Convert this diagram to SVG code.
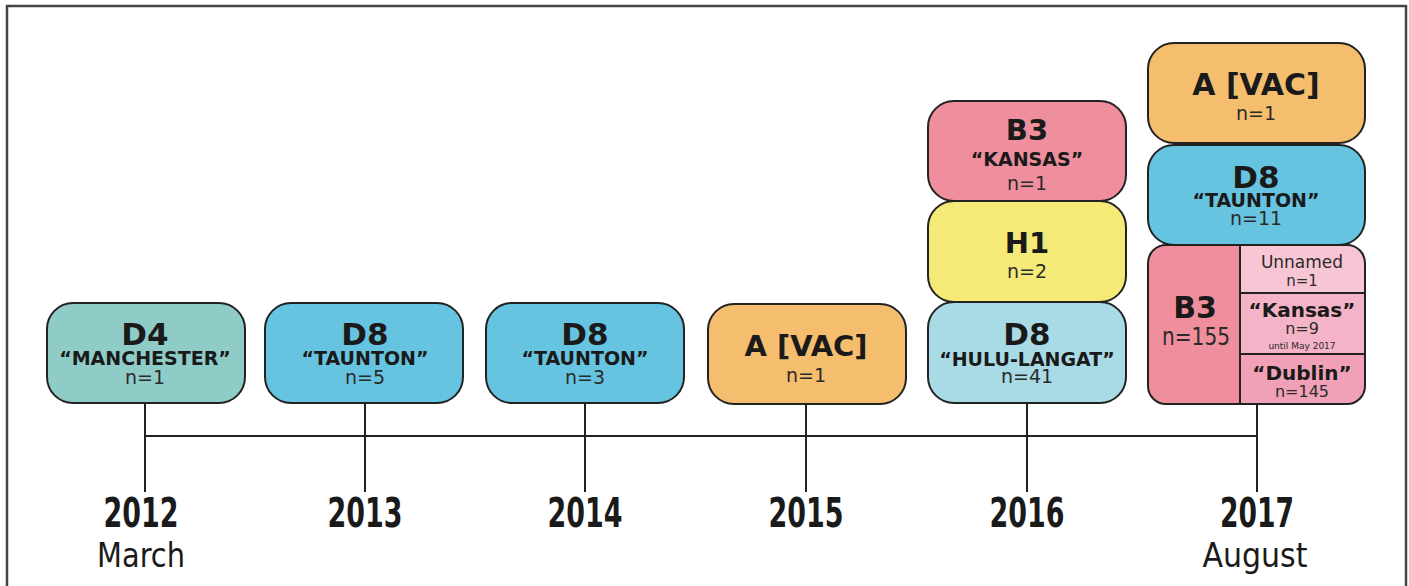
<svg xmlns="http://www.w3.org/2000/svg" width="1409" height="586" viewBox="0 0 1409 586">
<style>
.box{stroke:#222;stroke-width:2}
.h{font-family:"DejaVu Sans",Verdana,sans-serif;font-weight:bold;fill:#1a1a1a;text-anchor:middle}
.nm{font-family:"DejaVu Sans",Verdana,sans-serif;font-weight:bold;fill:#1a1a1a;text-anchor:middle;font-size:19px}
.n{font-family:"DejaVu Sans",Verdana,sans-serif;fill:#2a2a2a;text-anchor:middle}
.yr{font-family:"DejaVu Sans Condensed","DejaVu Sans",sans-serif;font-weight:bold;fill:#1a1a1a;text-anchor:middle;font-size:40px}
.mo{font-family:"DejaVu Sans Condensed","DejaVu Sans",sans-serif;fill:#1a1a1a;text-anchor:middle;font-size:33px}
.ln{stroke:#222;stroke-width:2;fill:none}
</style>
<defs>
<clipPath id="cb3"><rect x="1148" y="245" width="217" height="159" rx="18"/></clipPath>
</defs>
<rect x="0" y="0" width="1409" height="586" fill="#fff"/>
<path d="M7,586 V6 H1406 V586" fill="none" stroke="#444" stroke-width="2.5"/>

<g id="connectors">
<line class="ln" x1="145" y1="436" x2="1257" y2="436"/>
<line class="ln" x1="145" y1="403" x2="145" y2="492"/>
<line class="ln" x1="365" y1="403" x2="365" y2="492"/>
<line class="ln" x1="585" y1="403" x2="585" y2="492"/>
<line class="ln" x1="806" y1="404" x2="806" y2="492"/>
<line class="ln" x1="1027" y1="403" x2="1027" y2="492"/>
<line class="ln" x1="1257" y1="404" x2="1257" y2="492"/>
</g>

<g id="year-2012">
<text class="yr" x="141" y="527" textLength="75" lengthAdjust="spacingAndGlyphs">2012</text>
<text class="mo" x="141" y="567" textLength="88" lengthAdjust="spacingAndGlyphs">March</text>
</g>
<g id="year-2013"><text class="yr" x="365" y="527" textLength="75" lengthAdjust="spacingAndGlyphs">2013</text></g>
<g id="year-2014"><text class="yr" x="585" y="527" textLength="75" lengthAdjust="spacingAndGlyphs">2014</text></g>
<g id="year-2015"><text class="yr" x="806" y="527" textLength="75" lengthAdjust="spacingAndGlyphs">2015</text></g>
<g id="year-2016"><text class="yr" x="1027" y="527" textLength="75" lengthAdjust="spacingAndGlyphs">2016</text></g>
<g id="year-2017">
<text class="yr" x="1257" y="527" textLength="74" lengthAdjust="spacingAndGlyphs">2017</text>
<text class="mo" x="1255" y="567" textLength="105" lengthAdjust="spacingAndGlyphs">August</text>
</g>

<g id="d4-2012">
<rect class="box" x="47" y="303" width="198" height="100" rx="26" fill="#8FCCC7"/>
<text class="h" x="145" y="345" font-size="31">D4</text>
<text class="nm" x="145" y="365">“MANCHESTER”</text>
<text class="n" x="145" y="384" font-size="19">n=1</text>
</g>

<g id="d8-2013">
<rect class="box" x="265" y="303" width="198" height="100" rx="26" fill="#66C4E0"/>
<text class="h" x="365" y="345" font-size="31">D8</text>
<text class="nm" x="365" y="365">“TAUNTON”</text>
<text class="n" x="365" y="384" font-size="19">n=5</text>
</g>

<g id="d8-2014">
<rect class="box" x="486" y="303" width="198" height="100" rx="26" fill="#66C4E0"/>
<text class="h" x="585" y="345" font-size="31">D8</text>
<text class="nm" x="585" y="365">“TAUNTON”</text>
<text class="n" x="585" y="384" font-size="19">n=3</text>
</g>

<g id="a-2015">
<rect class="box" x="708" y="304" width="198" height="100" rx="26" fill="#F5BE6E"/>
<text class="h" x="806" y="356" font-size="29">A [VAC]</text>
<text class="n" x="806" y="382" font-size="19">n=1</text>
</g>

<g id="b3-2016">
<rect class="box" x="928" y="101" width="198" height="100" rx="26" fill="#EF8E9C"/>
<text class="h" x="1027" y="140" font-size="29">B3</text>
<text class="nm" x="1027" y="166">“KANSAS”</text>
<text class="n" x="1027" y="190" font-size="19">n=1</text>
</g>

<g id="h1-2016">
<rect class="box" x="928" y="201" width="198" height="101" rx="26" fill="#F5EA78"/>
<text class="h" x="1027" y="253" font-size="29">H1</text>
<text class="n" x="1027" y="278" font-size="19">n=2</text>
</g>

<g id="d8-2016">
<rect class="box" x="928" y="302" width="198" height="101" rx="26" fill="#A8DBE6"/>
<text class="h" x="1027" y="345" font-size="31">D8</text>
<text class="nm" x="1027" y="366">“HULU-LANGAT”</text>
<text class="n" x="1027" y="383" font-size="19">n=41</text>
</g>

<g id="a-2017">
<rect class="box" x="1148" y="43" width="217" height="100" rx="26" fill="#F5BE6E"/>
<text class="h" x="1256" y="95" font-size="30">A [VAC]</text>
<text class="n" x="1256" y="120" font-size="19">n=1</text>
</g>

<g id="d8-2017">
<rect class="box" x="1148" y="145" width="217" height="100" rx="26" fill="#66C4E0"/>
<text class="h" x="1256" y="188" font-size="31">D8</text>
<text class="nm" x="1256" y="207">“TAUNTON”</text>
<text class="n" x="1256" y="225" font-size="19">n=11</text>
</g>

<g id="b3-2017">
<g clip-path="url(#cb3)">
<rect x="1148" y="245" width="92" height="159" fill="#EF8E9C"/>
<rect x="1240" y="245" width="125" height="48" fill="#F7C5D3"/>
<rect x="1240" y="293" width="125" height="61" fill="#F4B3C6"/>
<rect x="1240" y="354" width="125" height="50" fill="#F0A1B8"/>
</g>
<line class="ln" x1="1240" y1="245" x2="1240" y2="404"/>
<line class="ln" x1="1240" y1="293" x2="1365" y2="293"/>
<line class="ln" x1="1240" y1="354" x2="1365" y2="354"/>
<rect class="box" x="1148" y="245" width="217" height="159" rx="18" fill="none"/>
<text class="h" x="1195" y="318" font-size="30">B3</text>
<text class="n" x="1196" y="345" font-size="24" textLength="68" lengthAdjust="spacingAndGlyphs">n=155</text>
<text class="n" x="1302" y="268" font-size="17">Unnamed</text>
<text class="n" x="1302" y="286" font-size="15">n=1</text>
<text class="h" x="1302" y="317" font-size="20">“Kansas”</text>
<text class="n" x="1302" y="334" font-size="16">n=9</text>
<text class="n" x="1302" y="349" font-size="9">until May 2017</text>
<text class="h" x="1302" y="380" font-size="20">“Dublin”</text>
<text class="n" x="1302" y="397" font-size="16">n=145</text>
</g>
</svg>
